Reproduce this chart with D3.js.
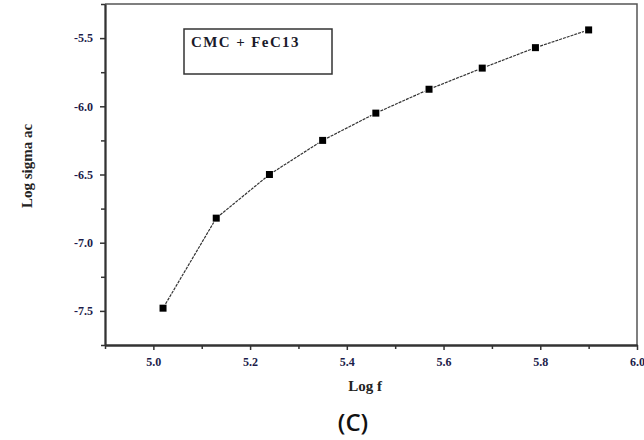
<!DOCTYPE html>
<html><head><meta charset="utf-8">
<script src="https://cdn.jsdelivr.net/npm/d3@7"></script>
<style>body{margin:0;background:#fff}svg{display:block}</style>
</head><body>
<script>
const logF = [5.02, 5.13, 5.24, 5.35, 5.46, 5.57, 5.68, 5.79, 5.90];
const logSigma = [-7.48, -6.82, -6.50, -6.25, -6.05, -5.875, -5.72, -5.57, -5.44];
const xTicks = [5.0, 5.2, 5.4, 5.6, 5.8, 6.0];
const xMinor = [4.9, 5.1, 5.3, 5.5, 5.7, 5.9];
const yTicks = [-7.5, -7.0, -6.5, -6.0, -5.5];
const yMinor = [-7.75, -7.25, -6.75, -6.25, -5.75, -5.25];
const legendLabel = "CMC + FeC13";
const xLabel = "Log f";
const yLabel = "Log sigma ac";
const caption = "(C)";

const W = 644, H = 440;
const m = {l: 105, r: 7, t: 4, b: 95};
const svg = d3.select("body").append("svg").attr("width", W).attr("height", H);
const x = d3.scaleLinear().domain([4.9, 6.0]).range([m.l, W - m.r]);
const y = d3.scaleLinear().domain([-7.75, -5.25]).range([H - m.b, m.t]);
const serif = "'Liberation Serif','DejaVu Serif',serif";
const fmt = d => d.toFixed(1);

// frame top/right
svg.append("path").attr("d", `M${x(4.9)},${y(-5.25)}H${x(6.0)}V${y(-7.75)}`)
  .attr("fill", "none").attr("stroke", "#555").attr("stroke-width", 1.5);

// axes
const xAxis = svg.append("g").attr("transform", `translate(0,${y(-7.75)})`)
  .call(d3.axisBottom(x).tickValues(xTicks).tickSize(5).tickSizeOuter(0).tickFormat(fmt));
const xAxisMinor = svg.append("g").attr("transform", `translate(0,${y(-7.75)})`)
  .call(d3.axisBottom(x).tickValues(xMinor).tickSize(4).tickSizeOuter(0).tickFormat(""));
const yAxis = svg.append("g").attr("transform", `translate(${x(4.9)},0)`)
  .call(d3.axisLeft(y).tickValues(yTicks).tickSize(5).tickSizeOuter(0).tickFormat(fmt));
const yAxisMinor = svg.append("g").attr("transform", `translate(${x(4.9)},0)`)
  .call(d3.axisLeft(y).tickValues(yMinor).tickSize(4).tickSizeOuter(0).tickFormat(""));
[xAxis, xAxisMinor, yAxis, yAxisMinor].forEach(g => {
  g.select(".domain").attr("stroke", "#333").attr("stroke-width", 1.8);
  g.selectAll(".tick line").attr("stroke", "#333").attr("stroke-width", 1.5);
  g.selectAll("text").attr("font-family", serif).attr("font-weight", "bold")
    .attr("font-size", 12).attr("fill", "#1c1c4a");
});
xAxis.selectAll("text").attr("dy", "1.1em");
yAxis.selectAll("text").attr("dx", "-4");

// line segments with gaps around markers
const pts = logF.map((v, i) => [x(v), y(logSigma[i])]);
const gap = 5;
for (let i = 0; i < pts.length - 1; i++) {
  const [x1, y1] = pts[i], [x2, y2] = pts[i + 1];
  const len = Math.hypot(x2 - x1, y2 - y1);
  const ux = (x2 - x1) / len, uy = (y2 - y1) / len;
  svg.append("line")
    .attr("x1", x1 + ux * gap).attr("y1", y1 + uy * gap)
    .attr("x2", x2 - ux * gap).attr("y2", y2 - uy * gap)
    .attr("stroke", "#333").attr("stroke-width", 1.2).attr("stroke-dasharray", "3,1");
}
svg.selectAll("rect.pt").data(logF).enter().append("rect").attr("class", "pt")
  .attr("x", (d) => x(d) - 3.5).attr("y", (d, i) => y(logSigma[i]) - 3.5)
  .attr("width", 7).attr("height", 7).attr("fill", "#000");

// legend box
svg.append("rect").attr("x", 184).attr("y", 29).attr("width", 148).attr("height", 45)
  .attr("fill", "none").attr("stroke", "#333").attr("stroke-width", 1.5);
svg.append("text").attr("x", 191).attr("y", 47).text(legendLabel)
  .attr("font-family", serif).attr("font-weight", "bold").attr("font-size", 15)
  .attr("letter-spacing", 1.4).attr("fill", "#1a1a2a");

// axis labels
svg.append("text").attr("x", 365).attr("y", 391).attr("text-anchor", "middle").text(xLabel)
  .attr("font-family", serif).attr("font-weight", "bold").attr("font-size", 15).attr("fill", "#222");
svg.append("text").attr("transform", "translate(32,166) rotate(-90)").attr("text-anchor", "middle")
  .text(yLabel).attr("font-family", serif).attr("font-weight", "bold").attr("font-size", 15)
  .attr("fill", "#222");
svg.append("text").attr("x", 353).attr("y", 431).attr("text-anchor", "middle").text(caption)
  .attr("font-family", "'Open Sans','Noto Sans',sans-serif").attr("font-weight", 600)
  .attr("font-size", 24).attr("fill", "#111");
</script>
</body></html>
